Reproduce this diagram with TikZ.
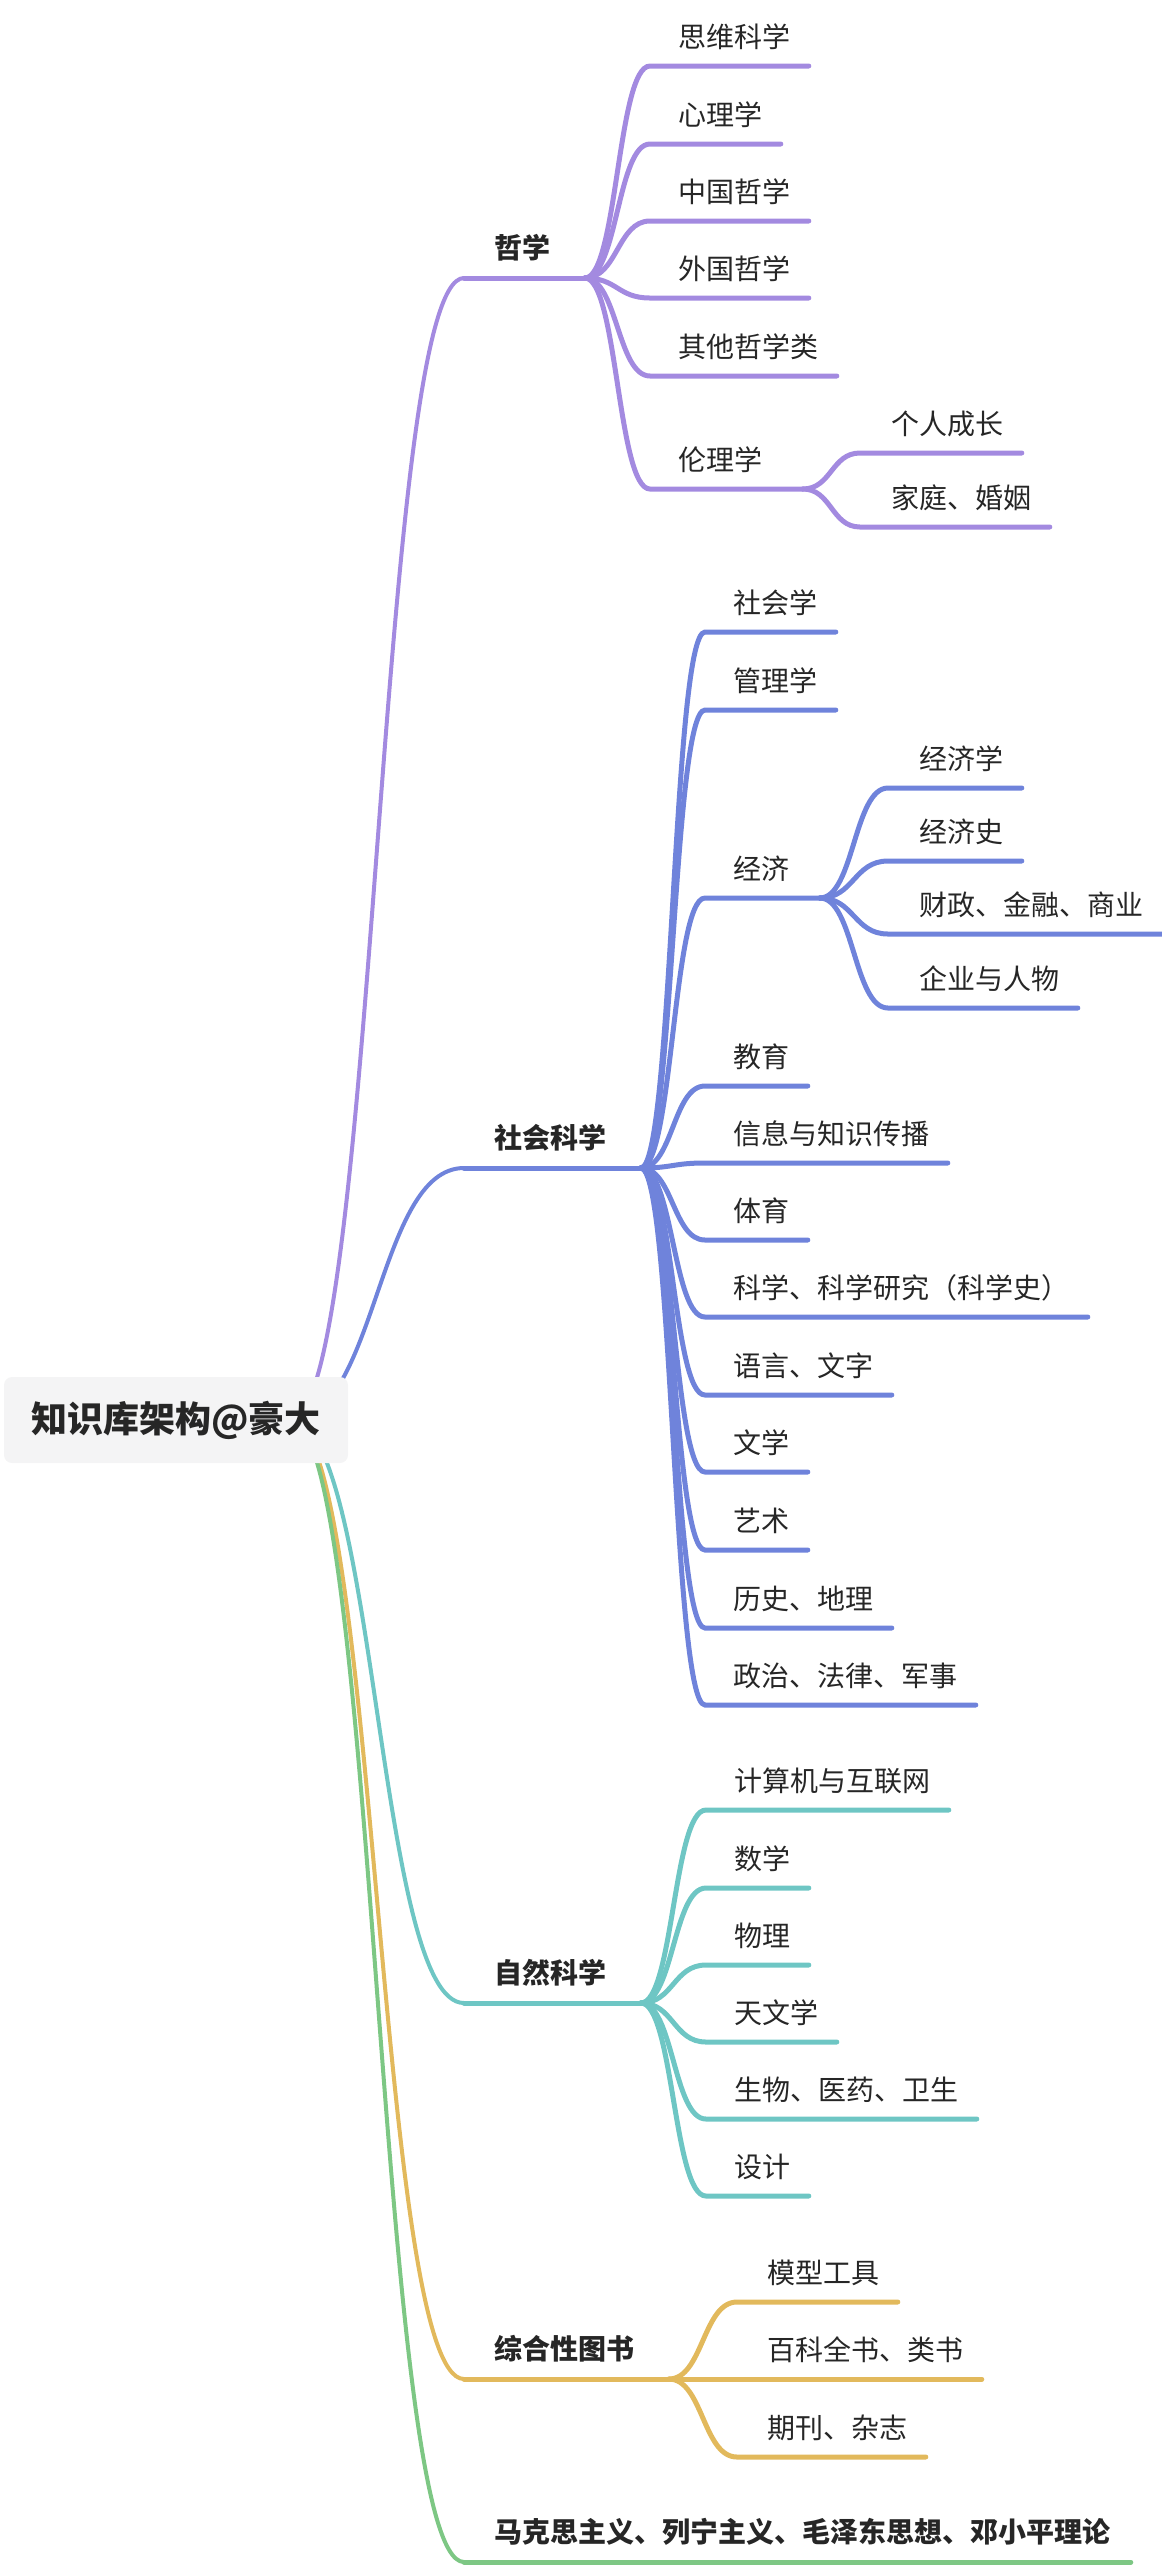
\documentclass[tikz,border=0pt]{standalone}
\usepackage{fontspec}
\setmainfont{Noto Sans CJK SC}
\usetikzlibrary{calc}
\definecolor{cpurple}{HTML}{A38AE0}
\definecolor{cblue}{HTML}{6F83DB}
\definecolor{cteal}{HTML}{6EC6C4}
\definecolor{cyellow}{HTML}{E2B95C}
\definecolor{cgreen}{HTML}{7DC784}
\definecolor{ctext}{HTML}{262626}
\definecolor{cbox}{HTML}{F4F4F5}
\tikzset{
  mm/.style={to path={let \p1=(\tikztostart), \p2=(\tikztotarget) in
     .. controls ({0.5*(\x1+\x2)},\y1) and ({0.5*(\x1+\x2)},\y2) .. (\tikztotarget)}},
  lone/.style={font=\fontsize{14pt}{16pt}\selectfont\bfseries, text=ctext, anchor=south west,
     inner sep=0pt, text height=12pt, text depth=9.7pt},
  ltwo/.style={font=\fontsize{14pt}{16pt}\selectfont, text=ctext, anchor=south west,
     inner sep=0pt, text height=12pt, text depth=9.2pt},
  rootlink/.style={draw=#1, line width=2pt, line cap=round},
  link/.style={draw=#1, line width=2.5pt, line cap=round},
}
% #1 style, #2 colour, #3 name, #4 parent anchor, #5 x, #6 y, #7 left pad, #8 right pad, #9 text
\newcommand\mmitem[9]{%
  \node[#1] (#3) at (#5,#6) {\hspace*{#7pt}#9\hspace*{#8pt}};
  \draw[link=#2] (#4) to[mm] (#3.south west) -- (#3.south east);
}
\newcommand\mmtop[7]{% #1 colour, #2 name, #3 y, #4 right pad, #5 text
  \node[lone] (#2) at (464,#3) {\hspace*{15pt}#5\hspace*{#4pt}};
  \draw[rootlink=#1] (rs) to[mm] (#2.south west);
  \draw[link=#1] (#2.south west) -- (#2.south east);
}
\begin{document}
\begin{tikzpicture}[x=0.5pt,y=-0.5pt]
\useasboundingbox (0,0) rectangle (1162,2572);
\coordinate (rs) at (290,1420);

% level 1
\mmtop{cpurple}{p1}{278}{17}{哲学}{}{}
\mmtop{cblue}{p2}{1168}{17}{社会科学}{}{}
\mmtop{cteal}{p3}{2003}{17}{自然科学}{}{}
\mmtop{cyellow}{p4}{2379}{17}{综合性图书}{}{}
\mmtop{cgreen}{p5}{2562}{10}{马克思主义、列宁主义、毛泽东思想、邓小平理论}{}{}

% philosophy
\mmitem{ltwo}{cpurple}{a1}{p1.south east}{650}{66}{14}{9}{思维科学}
\mmitem{ltwo}{cpurple}{a2}{p1.south east}{650}{144}{14}{9}{心理学}
\mmitem{ltwo}{cpurple}{a3}{p1.south east}{650}{221}{14}{9}{中国哲学}
\mmitem{ltwo}{cpurple}{a4}{p1.south east}{650}{298}{14}{9}{外国哲学}
\mmitem{ltwo}{cpurple}{a5}{p1.south east}{650}{376}{14}{9}{其他哲学类}
\mmitem{ltwo}{cpurple}{a6}{p1.south east}{650}{489}{14}{20}{伦理学}
\mmitem{ltwo}{cpurple}{a61}{a6.south east}{860}{453}{15.5}{9}{个人成长}
\mmitem{ltwo}{cpurple}{a62}{a6.south east}{860}{527}{15.5}{9}{家庭、婚姻}

% social science
\mmitem{ltwo}{cblue}{b1}{p2.south east}{705}{632}{14}{9}{社会学}
\mmitem{ltwo}{cblue}{b2}{p2.south east}{705}{710}{14}{9}{管理学}
\mmitem{ltwo}{cblue}{b3}{p2.south east}{705}{898}{14}{15}{经济}
\mmitem{ltwo}{cblue}{b31}{b3.south east}{888}{788}{15.5}{9}{经济学}
\mmitem{ltwo}{cblue}{b32}{b3.south east}{888}{861}{15.5}{9}{经济史}
\mmitem{ltwo}{cblue}{b33}{b3.south east}{888}{934}{15.5}{9}{财政、金融、商业}
\mmitem{ltwo}{cblue}{b34}{b3.south east}{888}{1008}{15.5}{9}{企业与人物}
\mmitem{ltwo}{cblue}{b4}{p2.south east}{705}{1086}{14}{9}{教育}
\mmitem{ltwo}{cblue}{b5}{p2.south east}{705}{1163}{14}{9}{信息与知识传播}
\mmitem{ltwo}{cblue}{b6}{p2.south east}{705}{1240}{14}{9}{体育}
\mmitem{ltwo}{cblue}{b7}{p2.south east}{705}{1317}{14}{9}{科学、科学研究（科学史）}
\mmitem{ltwo}{cblue}{b8}{p2.south east}{705}{1395}{14}{9}{语言、文字}
\mmitem{ltwo}{cblue}{b9}{p2.south east}{705}{1472}{14}{9}{文学}
\mmitem{ltwo}{cblue}{b10}{p2.south east}{705}{1550}{14}{9}{艺术}
\mmitem{ltwo}{cblue}{b11}{p2.south east}{705}{1628}{14}{9}{历史、地理}
\mmitem{ltwo}{cblue}{b12}{p2.south east}{705}{1705}{14}{9}{政治、法律、军事}

% natural science
\mmitem{ltwo}{cteal}{c1}{p3.south east}{706}{1810}{14}{9}{计算机与互联网}
\mmitem{ltwo}{cteal}{c2}{p3.south east}{706}{1888}{14}{9}{数学}
\mmitem{ltwo}{cteal}{c3}{p3.south east}{706}{1965}{14}{9}{物理}
\mmitem{ltwo}{cteal}{c4}{p3.south east}{706}{2042}{14}{9}{天文学}
\mmitem{ltwo}{cteal}{c5}{p3.south east}{706}{2119}{14}{9}{生物、医药、卫生}
\mmitem{ltwo}{cteal}{c6}{p3.south east}{706}{2196}{14}{9}{设计}

% general books
\mmitem{ltwo}{cyellow}{d1}{p4.south east}{737}{2302}{15}{9}{模型工具}
\mmitem{ltwo}{cyellow}{d2}{p4.south east}{737}{2379}{15}{9}{百科全书、类书}
\mmitem{ltwo}{cyellow}{d3}{p4.south east}{737}{2457}{15}{9}{期刊、杂志}

% root
\node[fill=cbox, rounded corners=4pt, minimum width=172pt, minimum height=43pt,
      inner sep=0pt, text=ctext, font=\fontsize{18pt}{20pt}\selectfont\bfseries]
      (root) at (176,1420) {知识库架构@豪大};
\end{tikzpicture}
\end{document}
